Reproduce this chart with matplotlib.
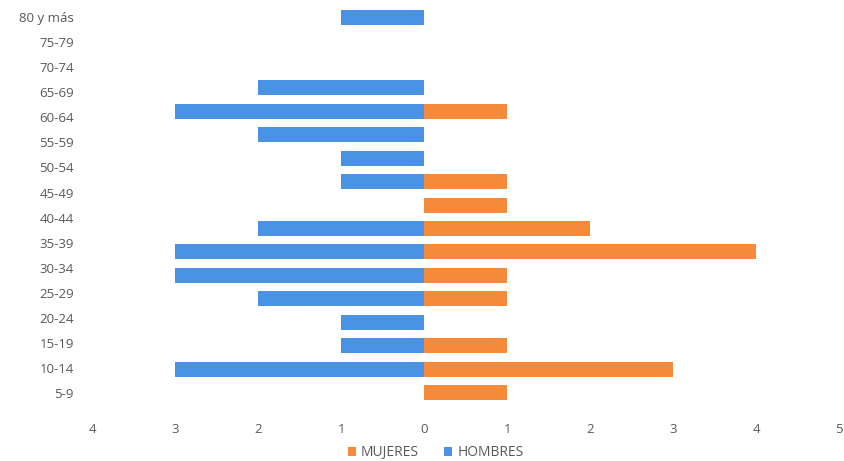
import matplotlib
matplotlib.use('Agg')
import matplotlib.pyplot as plt
from matplotlib.ticker import FuncFormatter
import numpy as np

# axis labels as printed, bottom to top (16 labels spread over the bar rows)
grupos = ['5-9', '10-14', '15-19', '20-24', '25-29', '30-34', '35-39', '40-44',
          '45-49', '50-54', '55-59', '60-64', '65-69', '70-74', '75-79', '80 y más']
# bar rows, bottom to top (the chart draws 17 rows of bars)
hombres = [0, 3, 1, 1, 2, 3, 3, 2, 0, 1, 1, 2, 3, 2, 0, 0, 1]
mujeres = [1, 3, 1, 0, 1, 1, 4, 2, 1, 1, 0, 0, 1, 0, 0, 0, 0]
x_ticks = [-4, -3, -2, -1, 0, 1, 2, 3, 4, 5]

color_h = '#4A92E4'
color_m = '#F58A3A'
gris = '#595959'

plt.rcParams['font.family'] = ['Open Sans', 'DejaVu Sans']

fig = plt.figure(figsize=(8.45, 4.61), dpi=100)
ax = fig.add_axes([0.109, 0.1225, 0.884, 0.8655])

y = np.arange(len(hombres))
ax.barh(y, mujeres, height=0.64, color=color_m, label='MUJERES')
ax.barh(y, [-v for v in hombres], height=0.64, color=color_h, label='HOMBRES')

ax.set_xlim(-4, 5)
ax.set_ylim(-0.5, len(hombres) - 0.5)
ax.set_xticks(x_ticks)
ax.xaxis.set_major_formatter(FuncFormatter(lambda v, p: f'{abs(int(v))}'))
ax.set_yticks(np.linspace(0, len(hombres) - 1, len(grupos)))
ax.set_yticklabels(grupos)

ax.tick_params(axis='y', length=0, pad=13, labelsize=9.5, labelcolor=gris)
ax.tick_params(axis='x', length=0, pad=13, labelsize=9.5, labelcolor=gris)
for s in ax.spines.values():
    s.set_visible(False)

ax.legend(loc='upper center', bbox_to_anchor=(0.46, -0.078), ncol=2, frameon=False,
          fontsize=10, labelcolor=gris, handlelength=0.6, handleheight=0.6,
          handletextpad=0.35, columnspacing=1.8, borderpad=0.2)

fig.savefig('out.png', dpi=100)
